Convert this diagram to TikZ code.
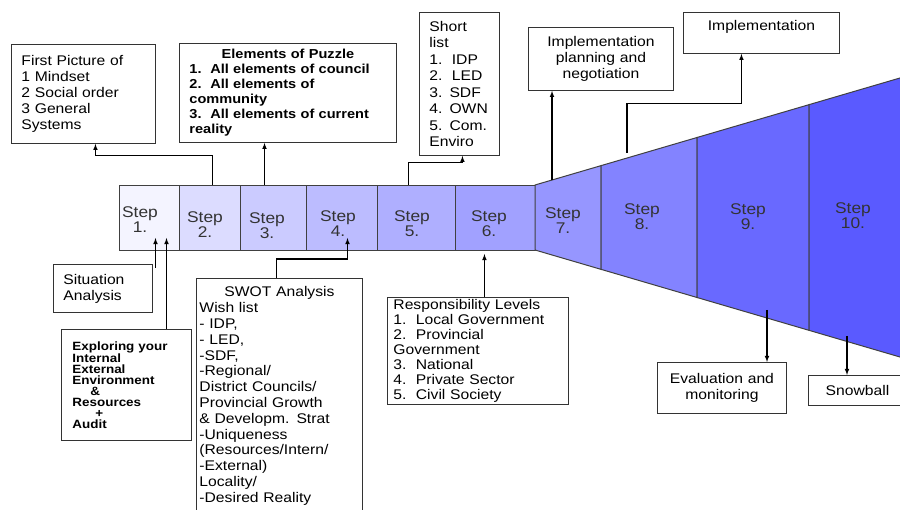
\documentclass[tikz,border=0pt]{standalone}
\usepackage{fontspec}
\setmainfont{Liberation Sans}[FakeStretch=1.12]
\usepackage{xcolor}
\usepackage{tikz}
\usetikzlibrary{positioning,shapes,arrows,calc}

\definecolor{step1}{HTML}{F4F4FF}
\definecolor{step2}{HTML}{DCDCFF}
\definecolor{step3}{HTML}{CBCBFF}
\definecolor{step4}{HTML}{BCBCFF}
\definecolor{step5}{HTML}{AFAFFF}
\definecolor{step6}{HTML}{A1A1FF}
\definecolor{step7}{HTML}{9696FF}
\definecolor{step8}{HTML}{8383FF}
\definecolor{step9}{HTML}{6969FF}
\definecolor{step10}{HTML}{5A5AFF}

\tikzset{
    box/.style={draw=black!80, line width=0.9pt, fill=white, anchor=north west,
        inner ysep=2pt, font=\fontsize{14}{16}\selectfont},
    leftbox/.style={box, align=left},
    midbox/.style={box, align=center},
    stepcell/.style={draw=black!75, line width=1pt, minimum height=65, anchor=north west, inner sep=0pt},
    steplbl/.style={align=center, text=black!80, font=\fontsize{15.5}{15}\selectfont},
    conn/.style={-latex, line width=1.1pt}
}

\begin{document}
\begin{tikzpicture}[x=1pt, y=-1pt,
    declare function={ftop(\t)=185-0.2932*(\t-535); fbot(\t)=250+0.2932*(\t-535);}]
    \useasboundingbox (0,0) rectangle (900,510);
    \clip (0,0) rectangle (900,510);

    \foreach \i/\l/\r in {1/119/179, 2/179/240, 3/240/306, 4/306/377, 5/377/455, 6/455/535}
        \node[stepcell, fill=step\i, minimum width=\r-\l] (s\i) at (\l,185) {};
    \foreach \i/\l/\r in {7/535/601, 8/601/697, 9/697/809, 10/809/910}
        \filldraw[fill=step\i, draw=black!75, line width=1pt]
            (\l,{ftop(\l)}) -- (\r,{ftop(\r)}) -- (\r,{fbot(\r)}) -- (\l,{fbot(\l)}) -- cycle;
    \foreach \i/\x/\y in {1/140/220, 2/205/225, 3/267/226, 4/338/224, 5/412/224,
                          6/489/224, 7/563/221, 8/642/217, 9/748/217, 10/853/216}
        \node[steplbl] (l\i) at (\x,\y) {Step\\\i.};

    \node[leftbox, inner xsep=10pt, text width=124, minimum width=144, minimum height=99] (pic) at (11,44)
        {First Picture of\\1 Mindset\\2 Social order\\3 General\\Systems};
    \node[leftbox, inner xsep=10pt, text width=197, minimum width=217, minimum height=99,
          font=\fontsize{13}{15}\selectfont\bfseries] (puzzle) at (179,43)
        {\makebox[197pt][c]{Elements of Puzzle}\\1.\ \ All elements of council\\2.\ \ All elements of\\community\\3.\ \ All elements of current\\reality};
    \node[leftbox, inner xsep=10pt, text width=60, minimum width=80, minimum height=143,
          font=\fontsize{14}{16.5}\selectfont] (short) at (419,12)
        {Short\\list\\1.\ \ IDP\\2.\ \ LED\\3. SDF\\4. OWN\\5. Com.\\Enviro};
    \node[midbox, inner xsep=5pt, text width=135, minimum width=145, minimum height=63] (plan) at (528,27)
        {Implementation\\planning and\\negotiation};
    \node[midbox, inner xsep=5pt, text width=146, minimum width=156, minimum height=41] (impl) at (683,12)
        {Implementation\\~};

    \node[leftbox, inner xsep=10pt, text width=79, minimum width=99, minimum height=48] (sit) at (53,264)
        {Situation\\Analysis};
    \node[leftbox, inner xsep=11pt, text width=108, minimum width=130, minimum height=111,
          font=\fontsize{12}{10.9}\selectfont\bfseries] (expl) at (61,329)
        {Exploring your\\Internal\\External\\Environment\\\hspace*{18pt}\&\\Resources\\\hspace*{23pt}+\\Audit};
    \node[leftbox, inner xsep=3pt, text width=160, minimum width=166, minimum height=235,
          font=\fontsize{14}{15.8}\selectfont] (swot) at (196,278)
        {\makebox[160pt][c]{SWOT Analysis}\\Wish list\\- IDP,\\- LED,\\-SDF,\\-Regional/\\District Councils/\\Provincial Growth\\\& Developm. Strat\\-Uniqueness\\(Resources/Intern/\\-External)\\Locality/\\-Desired Reality};
    \node[leftbox, inner xsep=6pt, inner ysep=1pt, text width=169, minimum width=181, minimum height=107,
          font=\fontsize{14}{15}\selectfont] (resp) at (387,297)
        {Responsibility Levels\\1.\ \ Local Government\\2.\ \ Provincial\\Government\\3.\ \ National\\4.\ \ Private Sector\\5.\ \ Civil Society};
    \node[midbox, inner xsep=5pt, text width=119, minimum width=129, minimum height=51] (eval) at (657,362)
        {Evaluation and\\monitoring};
    \node[midbox, inner xsep=5pt, text width=88, minimum width=98, minimum height=30] (snow) at (808,375)
        {Snowball};

    \coordinate (t1) at ([xshift=6pt,yshift=13pt]s1.south);
    \coordinate (t1b) at ([xshift=17pt,yshift=13pt]s1.south);
    \coordinate (p7) at (552,{ftop(552)});
    \coordinate (p8) at (627,153);
    \coordinate (p9) at (767,310);
    \coordinate (p10) at (847,336);

    \draw[conn] ([xshift=2.5pt]s2.north) |- ([xshift=12pt,yshift=-12pt]pic.south) -- ([xshift=12pt]pic.south);
    \draw[conn] ([xshift=-9pt]s3.north) -- ([xshift=-9pt]s3.north |- puzzle.south);
    \draw[conn] ([xshift=-8pt]s5.north) |- ([xshift=3pt,yshift=-7pt]short.south) -- ([xshift=3pt]short.south);
    \draw[conn] (p7) -- (p7 |- plan.south);
    \draw[conn] (p8) |- ([xshift=-20pt,yshift=-50pt]impl.south) -- ([xshift=-20pt]impl.south);
    \draw[conn] ([yshift=-4pt]t1 |- sit.north) -- (t1);
    \draw[conn] (t1b |- expl.north) -- (t1b);
    \draw[conn] ([xshift=-3pt]swot.north) |- ([xshift=5.5pt,yshift=-8pt]s4.south) -- ([xshift=5.5pt,yshift=13pt]s4.south);
    \draw[conn] ([xshift=6.5pt]resp.north) -- ([xshift=6.5pt,yshift=-3pt]resp.north |- s6.south);
    \draw[conn] (p9) -- (p9 |- eval.north);
    \draw[conn] (p10) -- (p10 |- snow.north);
\end{tikzpicture}
\end{document}
